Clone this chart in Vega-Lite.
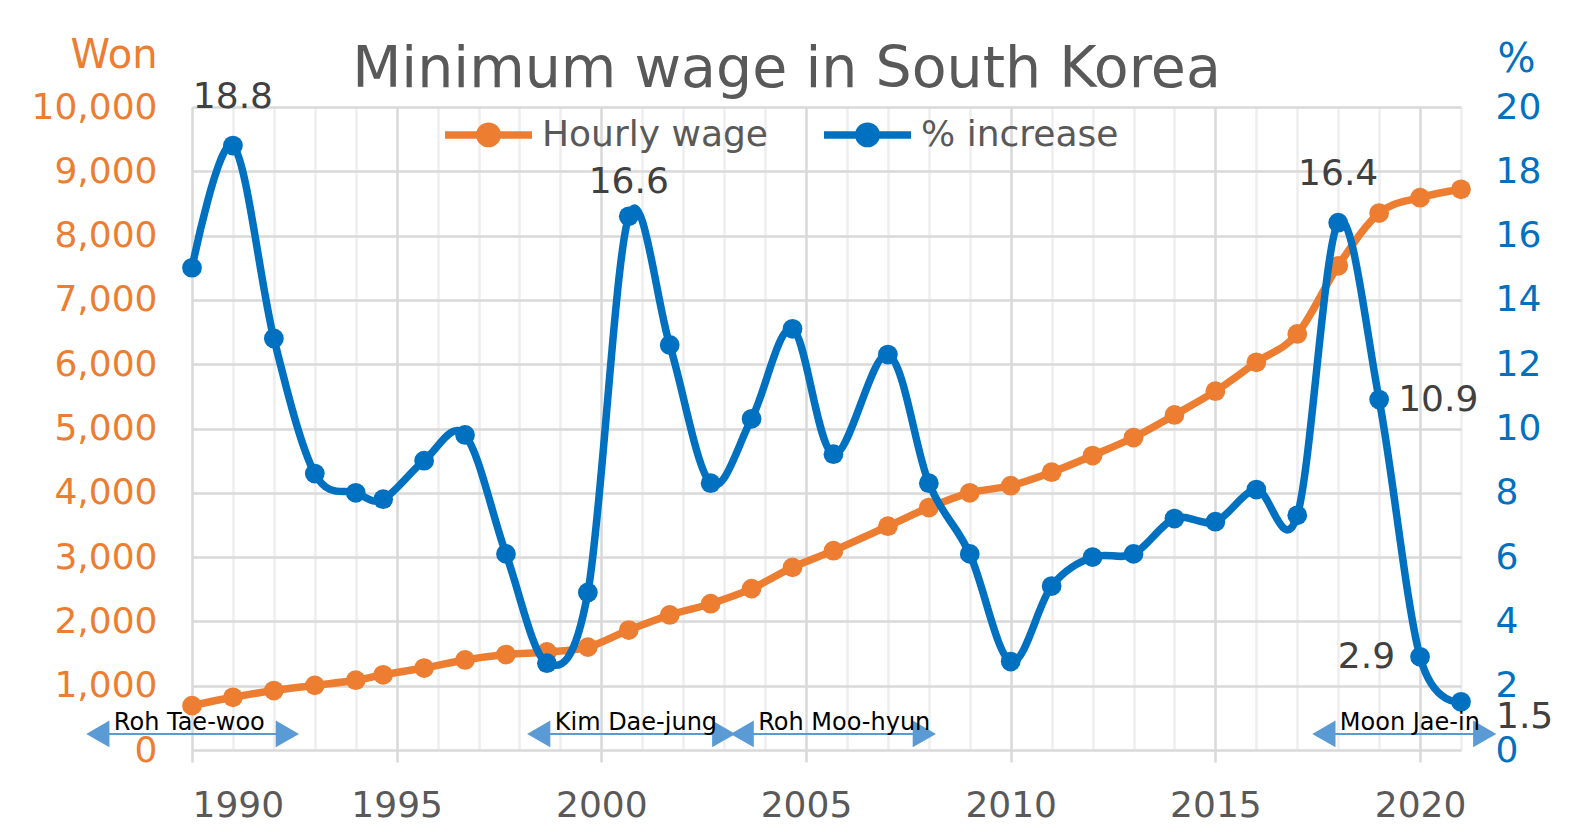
{
  "$schema": "https://vega.github.io/schema/vega-lite/v6.json",
  "width": 1269,
  "height": 643,
  "autosize": {"type": "none"},
  "padding": {"left": 192, "top": 107, "right": 123, "bottom": 86},
  "background": "white",
  "config": {
    "view": {"stroke": null},
    "font": "DejaVu Sans",
    "axis": {"labelFont": "DejaVu Sans", "titleFont": "DejaVu Sans"},
    "legend": {"labelFont": "DejaVu Sans"}
  },
  "title": {
    "text": "Minimum wage in South Korea",
    "font": "DejaVu Sans",
    "fontSize": 57,
    "fontWeight": "normal",
    "color": "#595959",
    "anchor": "middle",
    "frame": "group",
    "baseline": "alphabetic",
    "offset": -109,
    "dx": -40
  },
  "datasets": {
    "wages": [
      {"x": 1990, "wage": 690, "pct": 15.0},
      {"x": 1991, "wage": 820, "pct": 18.8},
      {"x": 1992, "wage": 925, "pct": 12.8},
      {"x": 1993, "wage": 1005, "pct": 8.6},
      {"x": 1994, "wage": 1085, "pct": 8.0},
      {"x": 1994.67, "wage": 1170, "pct": 7.8},
      {"x": 1995.67, "wage": 1275, "pct": 9.0},
      {"x": 1996.67, "wage": 1400, "pct": 9.8},
      {"x": 1997.67, "wage": 1485, "pct": 6.1},
      {"x": 1998.67, "wage": 1525, "pct": 2.7},
      {"x": 1999.67, "wage": 1600, "pct": 4.9},
      {"x": 2000.67, "wage": 1865, "pct": 16.6},
      {"x": 2001.67, "wage": 2100, "pct": 12.6},
      {"x": 2002.67, "wage": 2275, "pct": 8.3},
      {"x": 2003.67, "wage": 2510, "pct": 10.3},
      {"x": 2004.67, "wage": 2840, "pct": 13.1},
      {"x": 2005.67, "wage": 3100, "pct": 9.2},
      {"x": 2007, "wage": 3480, "pct": 12.3},
      {"x": 2008, "wage": 3770, "pct": 8.3},
      {"x": 2009, "wage": 4000, "pct": 6.1},
      {"x": 2010, "wage": 4110, "pct": 2.75},
      {"x": 2011, "wage": 4320, "pct": 5.1},
      {"x": 2012, "wage": 4580, "pct": 6.0},
      {"x": 2013, "wage": 4860, "pct": 6.1},
      {"x": 2014, "wage": 5210, "pct": 7.2},
      {"x": 2015, "wage": 5580, "pct": 7.1},
      {"x": 2016, "wage": 6030, "pct": 8.1},
      {"x": 2017, "wage": 6470, "pct": 7.3},
      {"x": 2018, "wage": 7530, "pct": 16.4},
      {"x": 2019, "wage": 8350, "pct": 10.9},
      {"x": 2020, "wage": 8590, "pct": 2.9},
      {"x": 2021, "wage": 8720, "pct": 1.5}
    ],
    "terms": [
      {"name": "Roh Tae-woo", "start": 1987.7, "end": 1992.33},
      {"name": "Kim Dae-jung", "start": 1998.47, "end": 2002.99},
      {"name": "Roh Moo-hyun", "start": 2003.44, "end": 2007.89},
      {"name": "Moon Jae-in", "start": 2017.65, "end": 2021.58}
    ]
  },
  "layer": [
    {
      "data": {"name": "wages"},
      "mark": {
        "type": "line",
        "interpolate": "cardinal",
        "tension": 0,
        "strokeWidth": 7.5,
        "point": {"filled": true, "size": 390, "opacity": 1}
      },
      "encoding": {
        "x": {
          "field": "x",
          "type": "quantitative",
          "scale": {"domain": [1990, 2021], "nice": false, "zero": false},
          "axis": {
            "title": null,
            "values": [1990, 1991, 1992, 1993, 1994, 1995, 1996, 1997, 1998, 1999, 2000, 2001, 2002, 2003, 2004, 2005, 2006, 2007, 2008, 2009, 2010, 2011, 2012, 2013, 2014, 2015, 2016, 2017, 2018, 2019, 2020, 2021],
            "format": "d",
            "labelExpr": "datum.value % 5 === 0 ? datum.label : ''",
            "labelOverlap": false,
            "labelFontSize": 36,
            "labelColor": "#595959",
            "labelPadding": 26,
            "domain": false,
            "grid": true,
            "gridWidth": 2.5,
            "gridColor": {"condition": {"test": "datum.value % 5 === 0", "value": "#D9D9D9"}, "value": "#EEEEEE"},
            "ticks": true,
            "tickSize": 12,
            "tickWidth": 2.5,
            "tickColor": "#D9D9D9",
            "tickOpacity": {"condition": {"test": "datum.value % 5 === 0", "value": 1}, "value": 0}
          }
        },
        "y": {
          "field": "wage",
          "type": "quantitative",
          "scale": {"domain": [0, 10000], "nice": false},
          "axis": {
            "orient": "left",
            "values": [0, 1000, 2000, 3000, 4000, 5000, 6000, 7000, 8000, 9000, 10000],
            "format": ",d",
            "labelFontSize": 36,
            "labelColor": "#ED7D31",
            "labelPadding": 35,
            "ticks": false,
            "tickSize": 0,
            "domain": false,
            "grid": true,
            "gridColor": "#D9D9D9",
            "gridWidth": 2.5,
            "title": "Won",
            "titleAngle": 0,
            "titleFontSize": 40,
            "titleFontWeight": "normal",
            "titleColor": "#ED7D31",
            "titleAlign": "right",
            "titleBaseline": "alphabetic",
            "titleX": -35,
            "titleY": -40
          }
        },
        "color": {
          "datum": "Hourly wage",
          "type": "nominal",
          "scale": {"domain": ["Hourly wage", "% increase"], "range": ["#ED7D31", "#0070C0"]},
          "legend": {
            "title": null,
            "orient": "none",
            "direction": "horizontal",
            "legendX": 249,
            "legendY": -20,
            "labelFontSize": 36,
            "labelColor": "#595959",
            "labelLimit": 0,
            "labelOffset": 6,
            "columnPadding": 41,
            "symbolType": "M-1,0H1M0.2,0A0.2,0.2,0,1,1,-0.2,0A0.2,0.2,0,1,1,0.2,0Z",
            "symbolSize": 7569,
            "symbolStrokeWidth": 7.5,
            "symbolOpacity": 1
          }
        }
      }
    },
    {
      "layer": [
        {
          "data": {"name": "wages"},
          "mark": {
            "type": "line",
            "interpolate": "cardinal",
            "tension": 0,
            "strokeWidth": 7.5,
            "point": {"filled": true, "size": 390, "opacity": 1}
          },
          "encoding": {
            "x": {"field": "x", "type": "quantitative", "scale": {"domain": [1990, 2021], "nice": false, "zero": false}},
            "y": {
              "field": "pct",
              "type": "quantitative",
              "scale": {"domain": [0, 20], "nice": false},
              "axis": {
                "orient": "right",
                "values": [0, 2, 4, 6, 8, 10, 12, 14, 16, 18, 20],
                "format": "d",
                "labelFontSize": 36,
                "labelColor": "#0070C0",
                "labelPadding": 34,
                "ticks": false,
                "tickSize": 0,
                "domain": false,
                "grid": false,
                "title": "%",
                "titleAngle": 0,
                "titleFontSize": 40,
                "titleFontWeight": "normal",
                "titleColor": "#0070C0",
                "titleAlign": "left",
                "titleBaseline": "alphabetic",
                "titleX": 36,
                "titleY": -36
              }
            },
            "color": {"datum": "% increase", "type": "nominal"}
          }
        },
        {
          "data": {"name": "wages"},
          "transform": [{"filter": "datum.x == 1991 || datum.x == 2018"}],
          "mark": {"type": "text", "fontSize": 36, "color": "#404040", "baseline": "alphabetic", "align": "center", "dy": -38},
          "encoding": {
            "x": {"field": "x", "type": "quantitative", "scale": {"domain": [1990, 2021], "nice": false, "zero": false}},
            "y": {"field": "pct", "type": "quantitative"},
            "text": {"field": "pct", "type": "quantitative", "format": ".1f"}
          }
        },
        {
          "data": {"name": "wages"},
          "transform": [{"filter": "datum.x == 2000.67"}],
          "mark": {"type": "text", "fontSize": 36, "color": "#404040", "baseline": "alphabetic", "align": "center", "dy": -23},
          "encoding": {
            "x": {"field": "x", "type": "quantitative", "scale": {"domain": [1990, 2021], "nice": false, "zero": false}},
            "y": {"field": "pct", "type": "quantitative"},
            "text": {"field": "pct", "type": "quantitative", "format": ".1f"}
          }
        },
        {
          "data": {"name": "wages"},
          "transform": [{"filter": "datum.x == 2019"}],
          "mark": {"type": "text", "fontSize": 36, "color": "#404040", "baseline": "middle", "align": "left", "dx": 19},
          "encoding": {
            "x": {"field": "x", "type": "quantitative", "scale": {"domain": [1990, 2021], "nice": false, "zero": false}},
            "y": {"field": "pct", "type": "quantitative"},
            "text": {"field": "pct", "type": "quantitative", "format": ".1f"}
          }
        },
        {
          "data": {"name": "wages"},
          "transform": [{"filter": "datum.x == 2020"}],
          "mark": {"type": "text", "fontSize": 36, "color": "#404040", "baseline": "middle", "align": "right", "dx": -25},
          "encoding": {
            "x": {"field": "x", "type": "quantitative", "scale": {"domain": [1990, 2021], "nice": false, "zero": false}},
            "y": {"field": "pct", "type": "quantitative"},
            "text": {"field": "pct", "type": "quantitative", "format": ".1f"}
          }
        },
        {
          "data": {"name": "wages"},
          "transform": [{"filter": "datum.x == 2021"}],
          "mark": {"type": "text", "fontSize": 36, "color": "#404040", "baseline": "middle", "align": "left", "dx": 35, "dy": 15},
          "encoding": {
            "x": {"field": "x", "type": "quantitative", "scale": {"domain": [1990, 2021], "nice": false, "zero": false}},
            "y": {"field": "pct", "type": "quantitative"},
            "text": {"field": "pct", "type": "quantitative", "format": ".1f"}
          }
        },
        {
          "data": {"name": "terms"},
          "mark": {"type": "rule", "color": "#5B9BD5", "strokeWidth": 2},
          "encoding": {
            "x": {"field": "start", "type": "quantitative", "scale": {"domain": [1990, 2021], "nice": false, "zero": false}},
            "x2": {"field": "end"},
            "y": {"datum": 0.5, "type": "quantitative"}
          }
        },
        {
          "data": {"name": "terms"},
          "mark": {"type": "point", "shape": "triangle-left", "filled": true, "size": 720, "color": "#5B9BD5", "opacity": 1},
          "encoding": {
            "x": {"field": "start", "type": "quantitative", "scale": {"domain": [1990, 2021], "nice": false, "zero": false}},
            "y": {"datum": 0.5, "type": "quantitative"}
          }
        },
        {
          "data": {"name": "terms"},
          "mark": {"type": "point", "shape": "triangle-right", "filled": true, "size": 720, "color": "#5B9BD5", "opacity": 1},
          "encoding": {
            "x": {"field": "end", "type": "quantitative", "scale": {"domain": [1990, 2021], "nice": false, "zero": false}},
            "y": {"datum": 0.5, "type": "quantitative"}
          }
        },
        {
          "data": {"name": "terms"},
          "mark": {"type": "text", "fontSize": 24, "color": "black", "align": "left", "baseline": "alphabetic", "dx": 16},
          "encoding": {
            "x": {"field": "start", "type": "quantitative", "scale": {"domain": [1990, 2021], "nice": false, "zero": false}},
            "y": {"datum": 0.62, "type": "quantitative"},
            "text": {"field": "name", "type": "nominal"}
          }
        }
      ]
    }
  ],
  "resolve": {"scale": {"y": "independent"}}
}
